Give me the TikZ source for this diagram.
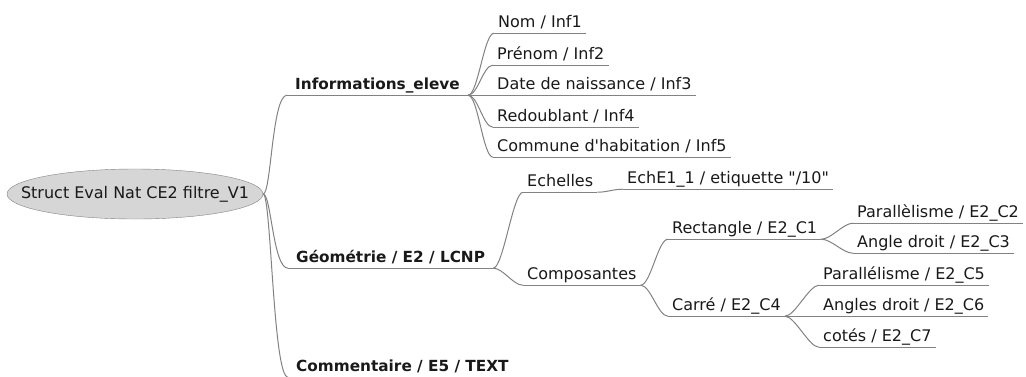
\documentclass[tikz,border=0pt]{standalone}
\usepackage{fontspec}
\setmainfont{DejaVu Sans}[Ligatures=TeXOff]
\usepackage{xcolor}
\usepackage{tikz}
\usetikzlibrary{shapes.geometric}

\definecolor{edgegray}{RGB}{130,130,130}
\definecolor{rootfill}{RGB}{214,214,214}
\definecolor{textdark}{RGB}{25,25,25}

\begin{document}
\begin{tikzpicture}[x=1pt, y=-1pt,
  root/.style={ellipse, draw=edgegray, fill=rootfill, minimum width=256pt, minimum height=50pt, inner xsep=-40pt, inner ysep=0pt, font=\fontsize{16}{18}\selectfont, text=textdark},
  leaf/.style={anchor=base west, inner xsep=4pt, inner ysep=0pt, text depth=6pt, font=\fontsize{16}{18}\selectfont, text=textdark},
  topic/.style={leaf, inner xsep=8pt, font=\bfseries\fontsize{15.3}{18}\selectfont},
  edge/.style={draw=edgegray, line width=1pt}
]
 \useasboundingbox (0,0) rectangle (1026,376);

 % Root
 \node[root] (root) at (135,194) {Struct Eval Nat CE2 filtre\_V1};

 % Main branches
 \node[topic] (info) at (287,89) {Informations\_eleve};
 \node[topic] (geo) at (288,262) {Géométrie / E2 / LCNP};
 \node[topic] (comm) at (288,371) {Commentaire / E5 / TEXT};

 % Informations_eleve
 \node[leaf] (nom) at (494,27) {Nom / Inf1};
 \node[leaf] (prenom) at (493,59) {Prénom / Inf2};
 \node[leaf] (date) at (493,89) {Date de naissance / Inf3};
 \node[leaf] (redoub) at (493,121) {Redoublant / Inf4};
 \node[leaf] (commune) at (493,151) {Commune d'habitation / Inf5};

 % Geometrie
 \node[leaf] (echelles) at (523,186) {Echelles};
 \node[leaf] (eche) at (623,183) {EchE1\_1 / etiquette "/10"};
 \node[leaf] (compo) at (523,279) {Composantes};
 \node[leaf] (rect) at (668,233) {Rectangle / E2\_C1};
 \node[leaf] (par2) at (853,217) {Parallèlisme / E2\_C2};
 \node[leaf] (ang3) at (853,247) {Angle droit / E2\_C3};
 \node[leaf] (carre) at (668,310) {Carré / E2\_C4};
 \node[leaf] (par5) at (819,279) {Parallélisme / E2\_C5};
 \node[leaf] (ang6) at (819,310) {Angles droit / E2\_C6};
 \node[leaf] (cotes) at (819,341) {cotés / E2\_C7};

 % underlines
 \foreach \n in {info,geo,comm,nom,prenom,date,redoub,commune,echelles,eche,compo,rect,par2,ang3,carre,par5,ang6,cotes}
  \draw[edge] (\n.south west) -- (\n.south east);

 % edges
 \foreach \b in {info,geo,comm}
  \draw[edge] (root.east) .. controls +(8,0) and +(-15,0) .. (\b.south west);
 \foreach \a/\b in {info/nom,info/prenom,info/date,info/redoub,info/commune,
                    geo/echelles,geo/compo,echelles/eche,compo/rect,compo/carre,
                    rect/par2,rect/ang3,carre/par5,carre/ang6,carre/cotes}
  \draw[edge] (\a.south east) .. controls +(10,0) and +(-10,0) .. (\b.south west);
\end{tikzpicture}
\end{document}
